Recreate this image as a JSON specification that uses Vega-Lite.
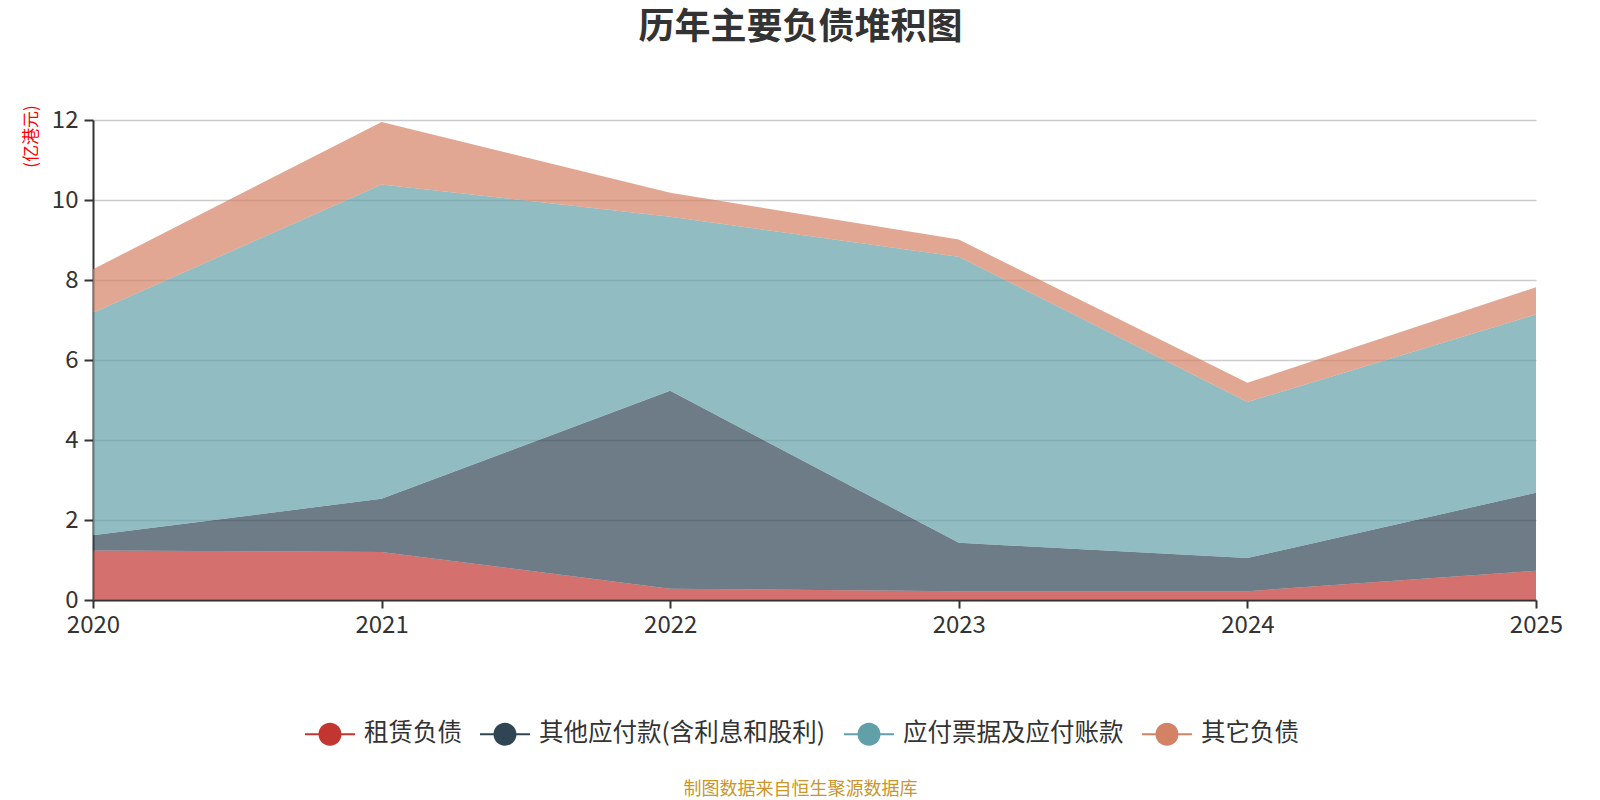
{
  "$schema": "https://vega.github.io/schema/vega-lite/v6.json",
  "autosize": "none",
  "width": 1443,
  "height": 480,
  "padding": {"top": 120, "left": 93, "right": 64, "bottom": 200},
  "background": "#ffffff",
  "config": {
    "font": "Noto Sans CJK SC",
    "view": {"stroke": null}
  },
  "title": {
    "text": "历年主要负债堆积图",
    "fontSize": 36,
    "fontWeight": "bold",
    "color": "#333333",
    "anchor": "middle",
    "frame": "group",
    "dx": -14,
    "offset": 58
  },
  "data": {
    "values": [
      {"年份": 2020, "类别": "租赁负债", "层": 1, "金额": 1.24},
      {"年份": 2020, "类别": "其他应付款(含利息和股利)", "层": 2, "金额": 0.38},
      {"年份": 2020, "类别": "应付票据及应付账款", "层": 3, "金额": 5.56},
      {"年份": 2020, "类别": "其它负债", "层": 4, "金额": 1.09},
      {"年份": 2021, "类别": "租赁负债", "层": 1, "金额": 1.20},
      {"年份": 2021, "类别": "其他应付款(含利息和股利)", "层": 2, "金额": 1.33},
      {"年份": 2021, "类别": "应付票据及应付账款", "层": 3, "金额": 7.86},
      {"年份": 2021, "类别": "其它负债", "层": 4, "金额": 1.56},
      {"年份": 2022, "类别": "租赁负债", "层": 1, "金额": 0.28},
      {"年份": 2022, "类别": "其他应付款(含利息和股利)", "层": 2, "金额": 4.95},
      {"年份": 2022, "类别": "应付票据及应付账款", "层": 3, "金额": 4.35},
      {"年份": 2022, "类别": "其它负债", "层": 4, "金额": 0.60},
      {"年份": 2023, "类别": "租赁负债", "层": 1, "金额": 0.22},
      {"年份": 2023, "类别": "其他应付款(含利息和股利)", "层": 2, "金额": 1.21},
      {"年份": 2023, "类别": "应付票据及应付账款", "层": 3, "金额": 7.15},
      {"年份": 2023, "类别": "其它负债", "层": 4, "金额": 0.43},
      {"年份": 2024, "类别": "租赁负债", "层": 1, "金额": 0.22},
      {"年份": 2024, "类别": "其他应付款(含利息和股利)", "层": 2, "金额": 0.83},
      {"年份": 2024, "类别": "应付票据及应付账款", "层": 3, "金额": 3.90},
      {"年份": 2024, "类别": "其它负债", "层": 4, "金额": 0.48},
      {"年份": 2025, "类别": "租赁负债", "层": 1, "金额": 0.73},
      {"年份": 2025, "类别": "其他应付款(含利息和股利)", "层": 2, "金额": 1.95},
      {"年份": 2025, "类别": "应付票据及应付账款", "层": 3, "金额": 4.46},
      {"年份": 2025, "类别": "其它负债", "层": 4, "金额": 0.68}
    ]
  },
  "mark": {"type": "area", "opacity": 0.7, "interpolate": "linear"},
  "encoding": {
    "x": {
      "field": "年份",
      "type": "quantitative",
      "scale": {"domain": [2020, 2025], "nice": false, "zero": false},
      "axis": {
        "values": [2020, 2021, 2022, 2023, 2024, 2025],
        "format": "d",
        "grid": false,
        "domainColor": "#333333",
        "domainWidth": 2,
        "tickColor": "#333333",
        "tickWidth": 2,
        "tickSize": 8,
        "labelFontSize": 24,
        "labelColor": "#333333",
        "labelPadding": 5,
        "labelFlush": false,
        "title": "制图数据来自恒生聚源数据库",
        "titleFontSize": 18,
        "titleFontWeight": "normal",
        "titleColor": "#c9962b",
        "titleX": 707,
        "titleY": 189,
        "titleAnchor": "middle",
        "titleAlign": "center",
        "titleBaseline": "middle"
      }
    },
    "y": {
      "field": "金额",
      "type": "quantitative",
      "stack": "zero",
      "scale": {"domain": [0, 12], "nice": false},
      "axis": {
        "values": [0, 2, 4, 6, 8, 10, 12],
        "grid": true,
        "gridColor": "#cccccc",
        "gridWidth": 1.5,
        "domainColor": "#333333",
        "domainWidth": 2,
        "tickColor": "#333333",
        "tickWidth": 2,
        "tickSize": 9,
        "labelFontSize": 24,
        "labelColor": "#333333",
        "labelPadding": 6,
        "title": "(亿港元)",
        "titleColor": "#ff0000",
        "titleFontSize": 17,
        "titleFontWeight": "normal",
        "titleAngle": 270,
        "titleX": -62,
        "titleY": 16,
        "titleAlign": "center",
        "titleBaseline": "middle"
      }
    },
    "color": {
      "field": "类别",
      "type": "nominal",
      "sort": ["租赁负债", "其他应付款(含利息和股利)", "应付票据及应付账款", "其它负债"],
      "scale": {
        "domain": ["租赁负债", "其他应付款(含利息和股利)", "应付票据及应付账款", "其它负债"],
        "range": ["#c23531", "#2f4554", "#61a0a8", "#d48265"]
      },
      "legend": {
        "orient": "none",
        "legendX": 212,
        "legendY": 589,
        "direction": "horizontal",
        "title": null,
        "symbolType": "M-1,-0.04L1,-0.04L1,0.04L-1,0.04Z M0.46,0 A0.46,0.46 0 1,1 -0.46,0 A0.46,0.46 0 1,1 0.46,0 Z",
        "symbolSize": 2500,
        "symbolStrokeWidth": 0,
        "symbolOpacity": 1,
        "labelFontSize": 24.5,
        "labelColor": "#333333",
        "labelOffset": 9,
        "columnPadding": 18,
        "labelLimit": 500,
        "encoding": {
          "symbols": {"opacity": {"value": 1}, "fillOpacity": {"value": 1}}
        }
      }
    },
    "order": {"field": "层", "sort": "ascending"}
  }
}
